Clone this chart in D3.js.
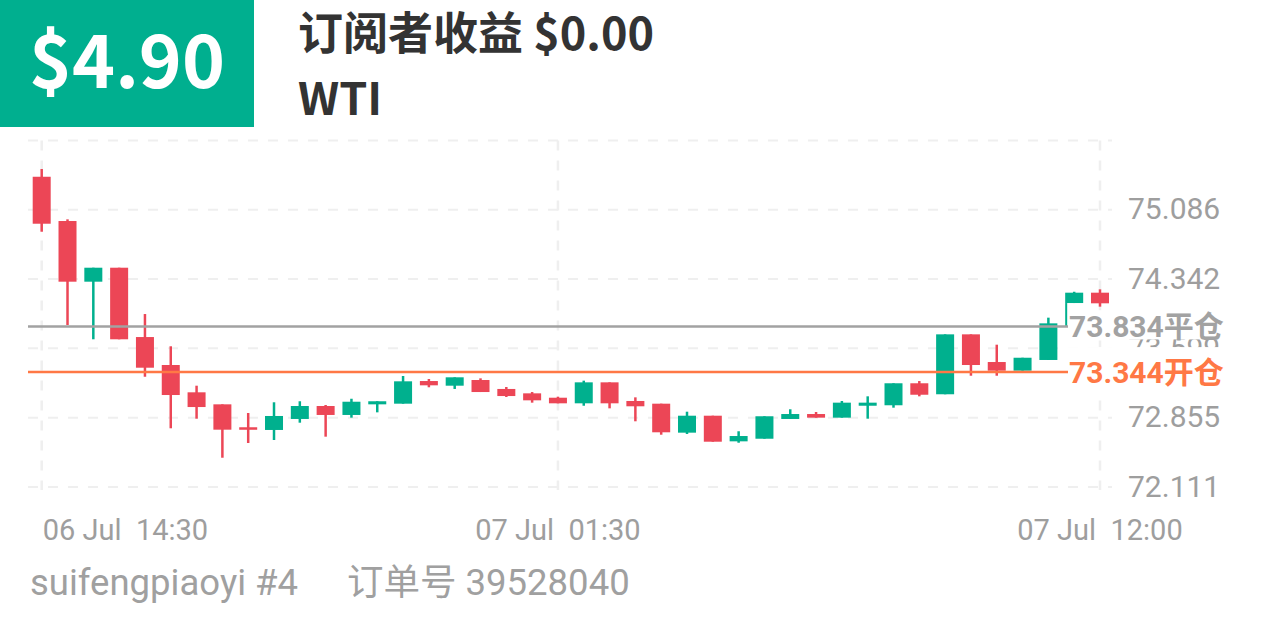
<!DOCTYPE html>
<html>
<head>
<meta charset="utf-8">
<script src="https://cdn.jsdelivr.net/npm/d3@7"></script>
<style>
  body { margin: 0; background: #fff; }
  svg { display: block; font-family: Roboto, "Noto Sans CJK SC", sans-serif; }
  text { white-space: pre; }
</style>
</head>
<body>
<svg id="chart" width="1266" height="633"></svg>
<script>
// candle data, oldest first
var opens  = [75.440, 74.965, 74.314, 74.464, 73.720, 73.420, 73.127, 72.998, 72.752, 72.723,
              72.841, 72.980, 72.884, 72.998, 73.005, 73.248, 73.198, 73.259, 73.163, 73.116,
              73.069, 73.009, 73.234, 73.034, 73.005, 72.694, 72.876, 72.601, 72.629, 72.841,
              72.894, 72.855, 72.983, 72.988, 73.224, 73.106, 73.749, 73.452, 73.359, 73.474,
              74.085, 74.196];
var highs  = [75.523, 74.983, 74.464, 74.464, 73.967, 73.621, 73.198, 72.998, 72.905, 73.020,
              73.031, 72.991, 73.058, 73.031, 73.302, 73.270, 73.288, 73.277, 73.184, 73.130,
              73.080, 73.252, 73.234, 73.073, 73.005, 72.919, 72.876, 72.709, 72.870, 72.945,
              72.916, 73.034, 73.084, 73.224, 73.248, 73.749, 73.749, 73.638, 73.498, 73.928,
              74.206, 74.232];
var lows   = [74.850, 73.849, 73.696, 73.696, 73.294, 72.741, 72.844, 72.425, 72.583, 72.615,
              72.801, 72.651, 72.855, 72.912, 73.005, 73.181, 73.163, 73.130, 73.077, 73.016,
              73.009, 72.983, 72.955, 72.816, 72.672, 72.680, 72.597, 72.586, 72.629, 72.841,
              72.855, 72.855, 72.844, 72.962, 73.084, 73.106, 73.305, 73.305, 73.359, 73.474,
              74.085, 74.046];
var closes = [74.936, 74.314, 74.464, 73.696, 73.391, 73.098, 72.969, 72.726, 72.726, 72.873,
              72.980, 72.884, 73.026, 73.031, 73.245, 73.202, 73.288, 73.130, 73.087, 73.041,
              73.009, 73.234, 73.009, 72.977, 72.698, 72.876, 72.597, 72.658, 72.870, 72.894,
              72.855, 73.016, 73.016, 73.224, 73.101, 73.749, 73.420, 73.359, 73.498, 73.867,
              74.196, 74.082];

var yTicks = [72.111, 72.855, 73.599, 74.342, 75.086, 75.829];
var yLabels = ["72.111", "72.855", "73.599", "74.342", "75.086", ""];
var xTickIdx = [0, 20, 41];
var xLabels = ["06 Jul  14:30", "07 Jul  01:30", "07 Jul  12:00"];

var closePrice = 73.834, openPrice = 73.344;
var profit = "$4.90", subTitle = "订阅者收益 $0.00", symbol = "WTI";
var footer = ["suifengpiaoyi #4", "订单号 39528040"];

var up = "#00b08e", down = "#ec4656", gridCol = "#efefef", axisCol = "#9e9e9e";

var svg = d3.select("#chart");

var x = d3.scaleLinear().domain([0, 41]).range([41.7, 1100]);
var y = d3.scaleLinear().domain([72.111, 75.829]).range([487, 140.5]);
var bw = 18;

// header
svg.append("rect").attr("x", 0).attr("y", 0).attr("width", 254).attr("height", 127).attr("fill", "#00af8f");
svg.append("text").attr("x", 29).attr("y", 88)
  .style("font-family", "'Noto Sans CJK SC'").style("font-weight", 700).style("font-size", "73px")
  .attr("fill", "#fff").text(profit);
svg.append("text").attr("x", 298).attr("y", 50)
  .style("font-family", "'Noto Sans CJK SC'").style("font-weight", 700).style("font-size", "45px")
  .attr("fill", "#333").text(subTitle);
svg.append("text").attr("x", 298).attr("y", 115)
  .style("font-family", "'Noto Sans CJK SC'").style("font-weight", 700).style("font-size", "45px")
  .attr("fill", "#333").text(symbol);

// grid
svg.append("g").selectAll("line").data(yTicks).enter().append("line")
  .attr("x1", 28).attr("x2", 1112)
  .attr("y1", function(d) { return y(d); }).attr("y2", function(d) { return y(d); })
  .attr("stroke", gridCol).attr("stroke-width", 2).attr("stroke-dasharray", "10,10");

svg.append("g").selectAll("line").data(xTickIdx).enter().append("line")
  .attr("x1", function(d) { return x(d); }).attr("x2", function(d) { return x(d); })
  .attr("y1", y(75.829)).attr("y2", 490)
  .attr("stroke", gridCol).attr("stroke-width", 2.5).attr("stroke-dasharray", "10,10");

// y labels
svg.append("g").selectAll("text").data(yTicks).enter().append("text")
  .attr("x", 1128).attr("y", function(d) { return y(d) - 1; }).attr("dy", "0.35em")
  .style("font-size", "30px").attr("fill", axisCol)
  .text(function(d, i) { return yLabels[i]; });

// x labels
svg.append("g").selectAll("text").data(xTickIdx).enter().append("text")
  .attr("x", function(d, i) { return i === 0 ? x(d) + 1 : x(d); })
  .attr("y", 540)
  .style("text-anchor", function(d, i) { return i === 0 ? "start" : "middle"; })
  .style("font-size", "29px").attr("fill", axisCol)
  .text(function(d, i) { return xLabels[i]; });

// candles
var candles = svg.append("g").selectAll("g").data(d3.range(opens.length)).enter().append("g");

candles.append("line")
  .attr("x1", function(i) { return x(i); }).attr("x2", function(i) { return x(i); })
  .attr("y1", function(i) { return y(highs[i]); }).attr("y2", function(i) { return y(lows[i]); })
  .attr("stroke", function(i) { return closes[i] >= opens[i] ? up : down; })
  .attr("stroke-width", 2.5);

candles.append("rect")
  .attr("x", function(i) { return x(i) - bw / 2; })
  .attr("width", bw)
  .attr("y", function(i) { return y(Math.max(opens[i], closes[i])); })
  .attr("height", function(i) { return Math.max(2.5, Math.abs(y(opens[i]) - y(closes[i]))); })
  .attr("fill", function(i) { return closes[i] >= opens[i] ? up : down; });

// connector from close line to last green candle
var last = 40;
svg.append("line")
  .attr("x1", x(last) - bw / 2 + 1).attr("x2", x(last) - bw / 2 + 1)
  .attr("y1", y(closePrice)).attr("y2", y(opens[last]))
  .attr("stroke", up).attr("stroke-width", 2);

// price lines
var levels = [
  { v: closePrice, col: "#a2a2a2", label: "73.834平仓" },
  { v: openPrice, col: "#ff7845", label: "73.344开仓" }
];

svg.append("g").selectAll("line").data(levels).enter().append("line")
  .attr("x1", 28).attr("x2", 1068)
  .attr("y1", function(d) { return y(d.v); }).attr("y2", function(d) { return y(d.v); })
  .attr("stroke", function(d) { return d.col; }).attr("stroke-width", 2.5);

var tags = svg.append("g").selectAll("g").data(levels).enter().append("g");
tags.append("rect")
  .attr("x", 1068).attr("width", 158)
  .attr("y", function(d, i) { return i === 0 ? y(d.v) - 16 : y(d.v) - 25; })
  .attr("height", function(d, i) { return i === 0 ? 29 : 44; })
  .attr("fill", "#fff");
tags.append("text")
  .attr("x", 1069).attr("y", function(d) { return y(d.v); }).attr("dy", "0.36em")
  .style("font-size", "30px").style("font-weight", 700)
  .attr("fill", function(d) { return d.col; })
  .text(function(d) { return d.label; });

// footer
svg.append("text").attr("x", 30).attr("y", 595)
  .style("font-size", "36.5px").attr("fill", "#a0a0a0").text(footer[0]);
svg.append("text").attr("x", 347).attr("y", 595)
  .style("font-size", "36.5px").attr("fill", "#a0a0a0").text(footer[1]);
</script>
</body>
</html>
